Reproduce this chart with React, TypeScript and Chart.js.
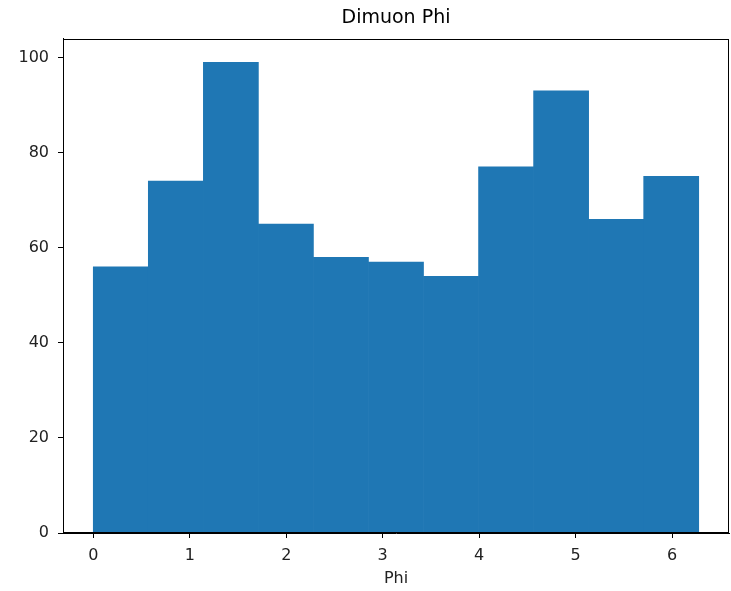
import React, { useEffect, useRef } from "react";
import { Chart, registerables } from "chart.js";

Chart.register(...registerables);

const binEdges = [0.0, 0.5705, 1.141, 1.7115, 2.282, 2.8525, 3.423, 3.9935, 4.564, 5.1345, 5.705, 6.2755];
const counts = [56, 74, 99, 65, 58, 57, 54, 77, 93, 66, 75];
const xTickValues = [0, 1, 2, 3, 4, 5, 6];
const yTickValues = [0, 20, 40, 60, 80, 100];
const chartTitle = "Dimuon Phi";
const xLabel = "Phi";

const FONT = "'DejaVu Sans', sans-serif";

const frame = {
  id: "frameBox",
  afterDraw(chart: any) {
    const { ctx, chartArea } = chart;
    ctx.save();
    ctx.strokeStyle = "#000";
    ctx.lineWidth = 1;
    ctx.strokeRect(
      Math.round(chartArea.left) + 0.5,
      Math.round(chartArea.top) + 0.5,
      Math.round(chartArea.right - chartArea.left) - 1,
      Math.round(chartArea.bottom - chartArea.top) - 1
    );
    ctx.restore();
  },
};

export default function App() {
  const ref = useRef<HTMLCanvasElement | null>(null);

  useEffect(() => {
    if (!ref.current) return;
    const data = counts.map((c, i) => ({ x: (binEdges[i] + binEdges[i + 1]) / 2, y: c }));
    const lo = binEdges[0];
    const hi = binEdges[binEdges.length - 1];
    const margin = (hi - lo) * 0.05;
    const chart = new Chart(ref.current, {
      type: "bar",
      data: {
        datasets: [
          {
            data: data as any,
            backgroundColor: "#1f77b4",
            borderWidth: 0,
            barPercentage: 1,
            categoryPercentage: 1,
          },
        ],
      },
      options: {
        animation: false,
        responsive: false,
        devicePixelRatio: 1,
        layout: { padding: { left: 0, right: 2, top: 0, bottom: 0 } },
        plugins: {
          legend: { display: false },
          tooltip: { enabled: false },
          title: {
            display: true,
            text: chartTitle,
            fullSize: false,
            color: "#000",
            font: { family: FONT, size: 19, weight: "normal" },
            padding: { top: 7, bottom: 9 },
          },
        },
        scales: {
          x: {
            type: "linear",
            offset: false,
            min: lo - margin,
            max: hi + margin,
            afterBuildTicks: (s: any) => {
              s.ticks = xTickValues.map((v) => ({ value: v }));
            },
            afterFit: (s: any) => {
              s.height = 58;
            },
            grid: {
              offset: false,
              display: true,
              drawOnChartArea: false,
              drawTicks: true,
              tickLength: 5,
              tickColor: "#000",
              color: "#000",
            },
            border: { display: true, color: "#000", width: 1 },
            ticks: {
              color: "#222",
              font: { family: FONT, size: 16 },
              padding: 8,
              maxRotation: 0,
              autoSkip: false,
            },
            title: {
              display: true,
              text: xLabel,
              color: "#222",
              font: { family: FONT, size: 16 },
              padding: { top: 0, bottom: 3 },
            },
          },
          y: {
            type: "linear",
            min: 0,
            max: 103.95,
            afterBuildTicks: (s: any) => {
              s.ticks = yTickValues.map((v) => ({ value: v }));
            },
            afterFit: (s: any) => {
              s.width = 63;
            },
            grid: {
              display: true,
              drawOnChartArea: false,
              drawTicks: true,
              tickLength: 5,
              tickColor: "#000",
              color: "#000",
            },
            border: { display: true, color: "#000", width: 1 },
            ticks: {
              color: "#222",
              font: { family: FONT, size: 16 },
              padding: 9,
              autoSkip: false,
            },
          },
        },
      },
      plugins: [frame],
    });
    return () => chart.destroy();
  }, []);

  return (
    <div style={{ position: "absolute", left: 0, top: 0, width: 731, height: 591, background: "#fff" }}>
      <canvas ref={ref} width={731} height={591} style={{ width: 731, height: 591, display: "block" }} />
    </div>
  );
}
